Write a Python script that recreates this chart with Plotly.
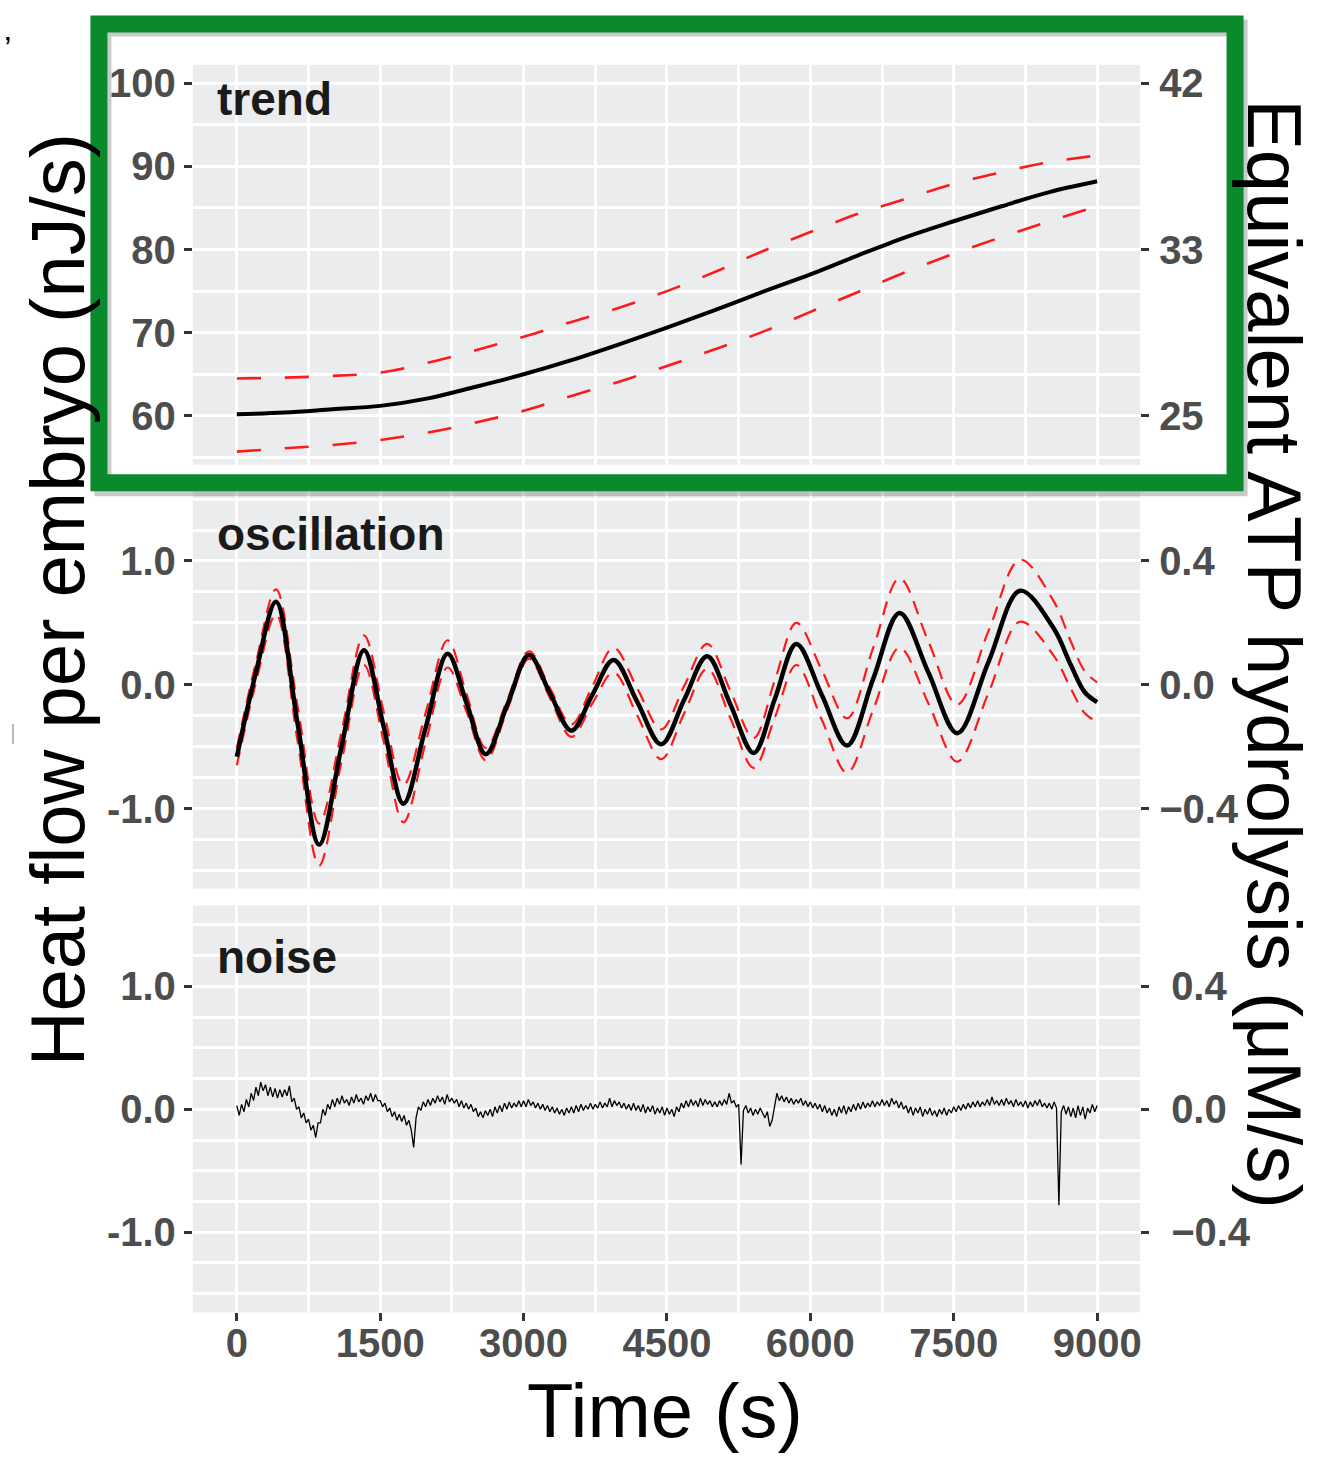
import plotly.graph_objects as go

W, H = 1321, 1459

# ---------------- data ----------------
trend_t = [0, 500, 1000, 1500, 2000, 2500, 3000, 3500, 4000, 4500,
           5000, 5500, 6000, 6500, 7000, 7500, 8000, 8500, 9000]
trend_fit = [60.2, 60.4, 60.8, 61.2, 62.1, 63.5, 65.0, 66.7, 68.6, 70.6,
             72.7, 74.9, 77.0, 79.3, 81.5, 83.4, 85.2, 86.9, 88.2]
trend_upper = [64.5, 64.6, 64.8, 65.2, 66.4, 67.9, 69.5, 71.3, 73.0, 75.0,
               77.3, 79.8, 82.1, 84.3, 86.1, 87.9, 89.3, 90.5, 91.3]
trend_lower = [55.7, 56.1, 56.5, 57.1, 58.0, 59.2, 60.6, 62.4, 64.1, 66.0,
               68.0, 70.1, 72.5, 74.9, 77.3, 79.5, 81.5, 83.4, 85.2]

osc_t = [0, 200, 410, 635, 861, 1095, 1330, 1537, 1743, 1974, 2205, 2405,
         2604, 2830, 3056, 3278, 3500, 3720, 3941, 4190, 4440, 4680, 4921,
         5164, 5407, 5630, 5854, 6119, 6384, 6658, 6933, 7235, 7537, 7866,
         8195, 8542, 8725, 8871, 9000]
osc_fit = [-0.58, 0.10, 0.67, -0.31, -1.29, -0.50, 0.28, -0.34, -0.96, -0.35,
           0.25, -0.15, -0.56, -0.16, 0.24, -0.07, -0.37, -0.08, 0.20, -0.14,
           -0.48, -0.12, 0.23, -0.16, -0.55, -0.11, 0.33, -0.08, -0.49, 0.05,
           0.58, 0.10, -0.39, 0.19, 0.76, 0.46, 0.16, -0.06, -0.14]
osc_upper = [-0.51, 0.18, 0.77, -0.17, -1.12, -0.38, 0.40, -0.22, -0.81, -0.23,
             0.36, -0.08, -0.51, -0.12, 0.27, -0.03, -0.32, -0.01, 0.30, -0.03,
             -0.36, -0.01, 0.33, -0.05, -0.43, 0.04, 0.50, 0.12, -0.27, 0.30,
             0.86, 0.35, -0.16, 0.44, 1.01, 0.68, 0.35, 0.11, 0.02]
osc_lower = [-0.65, 0.02, 0.57, -0.45, -1.46, -0.62, 0.16, -0.46, -1.11, -0.47,
             0.14, -0.22, -0.61, -0.20, 0.21, -0.11, -0.42, -0.15, 0.10, -0.25,
             -0.60, -0.23, 0.13, -0.27, -0.67, -0.26, 0.16, -0.28, -0.71, -0.20,
             0.30, -0.15, -0.62, -0.06, 0.51, 0.24, -0.03, -0.23, -0.30]

# noise residual, read every 25 s
noise_v = [
    0.03, -0.05, 0.04, -0.02, 0.08, 0.02, 0.13, 0.07, 0.18, 0.11, 0.22, 0.15, 0.20, 0.11, 0.18, 0.10, 0.17, 0.09, 0.16, 0.10,
    0.16, 0.11, 0.19, 0.06, 0.09, 0.00, 0.02, -0.07, -0.03, -0.11, -0.08, -0.17, -0.13, -0.23, -0.11, -0.11, 0.00, -0.05, 0.04, 0.00,
    0.08, 0.02, 0.09, 0.04, 0.11, 0.05, 0.08, 0.03, 0.10, 0.05, 0.12, 0.06, 0.09, 0.04, 0.11, 0.07, 0.13, 0.06, 0.12, 0.07,
    0.07, 0.02, 0.05, -0.02, 0.01, -0.06, -0.02, -0.09, -0.04, -0.10, -0.05, -0.13, -0.09, -0.17, -0.31, -0.07, 0.02, -0.01, 0.06, 0.02,
    0.08, 0.03, 0.09, 0.05, 0.11, 0.06, 0.10, 0.04, 0.12, 0.06, 0.09, 0.05, 0.08, 0.02, 0.07, 0.01, 0.05, 0.00, 0.04, -0.02,
    0.01, -0.06, -0.02, -0.07, -0.01, -0.05, 0.00, -0.06, 0.02, -0.03, 0.03, -0.02, 0.05, 0.00, 0.06, 0.01, 0.05, 0.02, 0.07, 0.02,
    0.07, 0.02, 0.08, 0.03, 0.06, 0.01, 0.05, 0.00, 0.04, -0.01, 0.03, -0.02, 0.02, -0.03, 0.01, -0.04, 0.00, -0.05, 0.01, -0.03,
    0.02, -0.03, 0.03, -0.02, 0.04, -0.01, 0.03, 0.00, 0.05, 0.00, 0.04, 0.01, 0.06, 0.01, 0.05, 0.02, 0.09, 0.02, 0.07, 0.03,
    0.06, 0.01, 0.05, 0.00, 0.04, -0.01, 0.05, -0.01, 0.03, -0.02, 0.04, -0.03, 0.02, -0.02, 0.03, -0.04, 0.01, -0.03, 0.02, -0.05,
    0.01, -0.04, 0.00, -0.06, 0.02, -0.02, 0.05, 0.01, 0.07, 0.02, 0.08, 0.03, 0.07, 0.02, 0.09, 0.03, 0.08, 0.04, 0.07, 0.02,
    0.06, 0.02, 0.07, 0.03, 0.08, 0.04, 0.13, 0.05, 0.07, 0.02, 0.04, -0.45, -0.01, 0.03, -0.03, 0.01, -0.05, 0.00, -0.04, 0.01,
    -0.03, -0.07, -0.02, -0.14, -0.09, 0.04, 0.13, 0.07, 0.11, 0.06, 0.10, 0.05, 0.09, 0.04, 0.08, 0.05, 0.09, 0.03, 0.07, 0.02,
    0.06, 0.01, 0.05, 0.00, 0.04, -0.02, 0.03, -0.03, 0.01, -0.05, 0.00, -0.06, 0.02, -0.03, 0.03, -0.04, 0.02, -0.02, 0.04, -0.01,
    0.05, 0.00, 0.06, 0.01, 0.05, 0.02, 0.07, 0.02, 0.06, 0.03, 0.08, 0.03, 0.07, 0.02, 0.09, 0.04, 0.07, 0.01, 0.06, 0.00,
    0.03, -0.03, 0.02, -0.05, 0.01, -0.03, 0.02, -0.06, 0.00, -0.04, 0.01, -0.05, -0.01, -0.06, 0.00, -0.04, 0.01, -0.05, 0.00, -0.03,
    0.02, -0.02, 0.03, -0.01, 0.04, 0.00, 0.05, 0.01, 0.06, 0.02, 0.07, 0.02, 0.06, 0.03, 0.08, 0.03, 0.10, 0.04, 0.07, 0.03,
    0.08, 0.03, 0.09, 0.04, 0.07, 0.02, 0.08, 0.03, 0.06, 0.02, 0.07, 0.01, 0.06, 0.02, 0.07, 0.03, 0.08, 0.02, 0.05, 0.01,
    0.05, 0.00, 0.06, 0.01, -0.78, -0.02, 0.03, -0.04, 0.02, -0.06, 0.01, -0.07, 0.03, -0.05, 0.02, -0.08, 0.01, -0.03, 0.04, -0.02,
    0.03,
]
noise_step = 25
noise_t = [noise_step * i for i in range(len(noise_v))]

x_tickvals = [0, 1500, 3000, 4500, 6000, 7500, 9000]
x_ticktext = ["0", "1500", "3000", "4500", "6000", "7500", "9000"]
trend_left_vals = [60, 70, 80, 90, 100]
trend_left_text = ["60", "70", "80", "90", "100"]
trend_right_vals = [60, 80, 100]
trend_right_text = ["25", "33", "42"]
resid_left_vals = [-1, 0, 1]
resid_left_text = ["-1.0", "0.0", "1.0"]
resid_right_text = ["\u22120.4", "0.0", "0.4"]
panel_labels = ["trend", "oscillation", "noise"]

# ---------------- layout helpers ----------------
def px_x(p):
    return p / W

def px_y(p):
    return 1 - p / H

XDOM = [px_x(193), px_x(1141)]
XRANGE = [-460, 9450]
DOM_TOP = [px_y(462), px_y(61)]
DOM_MID = [px_y(887), px_y(480)]
DOM_BOT = [px_y(1312), px_y(904)]
R_TOP = [60 - (462 - 413) / 8.34, 60 + (413 - 61) / 8.34]
R_MID = [-(887 - 682.7) / 124.2, (682.7 - 480) / 124.2]
R_BOT = [-(1312 - 1108.3) / 123.3, (1108.3 - 904) / 123.3]

BG = "#ebecee"
GRID = "white"
TICKFONT = dict(family="Liberation Sans, Arial", size=40, color="#4d4d4d", weight="bold")
RED = "#ff1a1a"

fig = go.Figure()

# trend panel
for yy in (trend_upper, trend_lower):
    fig.add_trace(go.Scatter(x=trend_t, y=yy, xaxis="x", yaxis="y", mode="lines",
                             line=dict(color=RED, width=2.6, dash="24px,24px", shape="spline"),
                             showlegend=False, hoverinfo="skip"))
fig.add_trace(go.Scatter(x=trend_t, y=trend_fit, xaxis="x", yaxis="y", mode="lines",
                         line=dict(color="black", width=4, shape="spline"),
                         showlegend=False))
fig.add_trace(go.Scatter(x=[0], y=[60], xaxis="x", yaxis="y2", mode="markers",
                         marker=dict(opacity=0), showlegend=False, hoverinfo="skip"))

# oscillation panel
for yy in (osc_upper, osc_lower):
    fig.add_trace(go.Scatter(x=osc_t, y=yy, xaxis="x2", yaxis="y3", mode="lines",
                             line=dict(color=RED, width=2.2, dash="14px,9px", shape="spline"),
                             showlegend=False, hoverinfo="skip"))
fig.add_trace(go.Scatter(x=osc_t, y=osc_fit, xaxis="x2", yaxis="y3", mode="lines",
                         line=dict(color="black", width=4.5, shape="spline"),
                         showlegend=False))
fig.add_trace(go.Scatter(x=[0], y=[0], xaxis="x2", yaxis="y4", mode="markers",
                         marker=dict(opacity=0), showlegend=False, hoverinfo="skip"))

# noise panel
fig.add_trace(go.Scatter(x=noise_t, y=noise_v, xaxis="x3", yaxis="y5", mode="lines",
                         line=dict(color="black", width=1.3),
                         showlegend=False))
fig.add_trace(go.Scatter(x=[0], y=[0], xaxis="x3", yaxis="y6", mode="markers",
                         marker=dict(opacity=0), showlegend=False, hoverinfo="skip"))

def xaxis(anchor, show_labels):
    d = dict(domain=XDOM, range=XRANGE, anchor=anchor, showgrid=True, gridcolor=GRID,
             gridwidth=3, zeroline=False, showline=False,
             tickvals=x_tickvals, ticktext=x_ticktext,
             minor=dict(tick0=0, dtick=750, showgrid=True, gridcolor=GRID, gridwidth=3, ticks=""),
             fixedrange=True)
    if show_labels:
        d.update(ticks="outside", ticklen=8, tickwidth=3, tickcolor="#333333",
                 showticklabels=True, tickfont=TICKFONT, ticklabelstandoff=-12)
    else:
        d.update(ticks="", showticklabels=False)
    return d

def yaxis_left(dom, rng, vals, text, minor_dt, anchor):
    return dict(domain=dom, range=rng, anchor=anchor, showgrid=True, gridcolor=GRID,
                gridwidth=3, zeroline=False, showline=False, tickvals=vals, ticktext=text,
                ticks="outside", ticklen=8, tickwidth=3, tickcolor="#333333",
                tickfont=TICKFONT,
                minor=dict(tick0=0, dtick=minor_dt, showgrid=True, gridcolor=GRID,
                           gridwidth=3, ticks=""),
                fixedrange=True)

def yaxis_right(over, rng, vals, text, anchor, standoff):
    return dict(overlaying=over, side="right", range=rng, anchor=anchor, showgrid=False,
                zeroline=False, showline=False, tickvals=vals, ticktext=text,
                ticks="outside", ticklen=8, tickwidth=3, tickcolor="#333333",
                tickfont=TICKFONT, ticklabelstandoff=standoff, fixedrange=True)

fig.update_layout(
    width=W, height=H,
    margin=dict(l=0, r=0, t=0, b=0),
    paper_bgcolor="white",
    plot_bgcolor=BG,
    showlegend=False,
    xaxis=xaxis("y", False),
    xaxis2=xaxis("y3", False),
    xaxis3=xaxis("y5", True),
    yaxis=yaxis_left(DOM_TOP, R_TOP, trend_left_vals, trend_left_text, 5, "x"),
    yaxis2=yaxis_right("y", R_TOP, trend_right_vals, trend_right_text, "x", 2),
    yaxis3=yaxis_left(DOM_MID, R_MID, resid_left_vals, resid_left_text, 0.25, "x2"),
    yaxis4=yaxis_right("y3", R_MID, resid_left_vals, resid_right_text, "x2", 2),
    yaxis5=yaxis_left(DOM_BOT, R_BOT, resid_left_vals, resid_left_text, 0.25, "x3"),
    yaxis6=yaxis_right("y5", R_BOT, resid_left_vals, resid_right_text, "x3", 14),
)

# panel labels
label_font = dict(family="Liberation Sans, Arial", size=46, color="#1a1a1a", weight="bold")
for lab, py in zip(panel_labels, [95, 531, 956]):
    fig.add_annotation(text=lab, x=px_x(215), y=px_y(py), xref="paper", yref="paper",
                       xanchor="left", yanchor="middle", showarrow=False, font=label_font)

title_font = dict(family="Liberation Sans, Arial", size=76, color="black")
fig.add_annotation(text="Heat flow per embryo (nJ/s)", x=px_x(57), y=px_y(597),
                   xref="paper", yref="paper", xanchor="center", yanchor="middle",
                   textangle=-90, showarrow=False, font=title_font)
fig.add_annotation(text="Equivalent ATP hydrolysis (\u03bcM/s)", x=px_x(1276), y=px_y(652),
                   xref="paper", yref="paper", xanchor="center", yanchor="middle",
                   textangle=90, showarrow=False, font=title_font)
fig.add_annotation(text="Time (s)", x=px_x(666), y=px_y(1410),
                   xref="paper", yref="paper", xanchor="center", yanchor="middle",
                   showarrow=False, font=title_font)
fig.add_annotation(text="\u2019", x=px_x(2), y=px_y(44), xref="paper", yref="paper",
                   xanchor="left", yanchor="middle", showarrow=False,
                   font=dict(family="Liberation Sans", size=34, color="black"))

# stray mark at left edge
fig.add_shape(type="line", xref="paper", yref="paper", x0=px_x(13), x1=px_x(13),
              y0=px_y(722), y1=px_y(742), line=dict(color="#bbbbbb", width=2))

# green highlight border with shadow
fig.add_shape(type="rect", xref="paper", yref="paper",
              x0=px_x(103), x1=px_x(1240), y0=px_y(485), y1=px_y(24),
              line=dict(color="rgba(80,80,80,0.30)", width=17), layer="above")
fig.add_shape(type="rect", xref="paper", yref="paper",
              x0=px_x(99), x1=px_x(1236), y0=px_y(480), y1=px_y(20),
              line=dict(color="#0b8a2d", width=17), layer="above")

fig.write_html("out.html")
